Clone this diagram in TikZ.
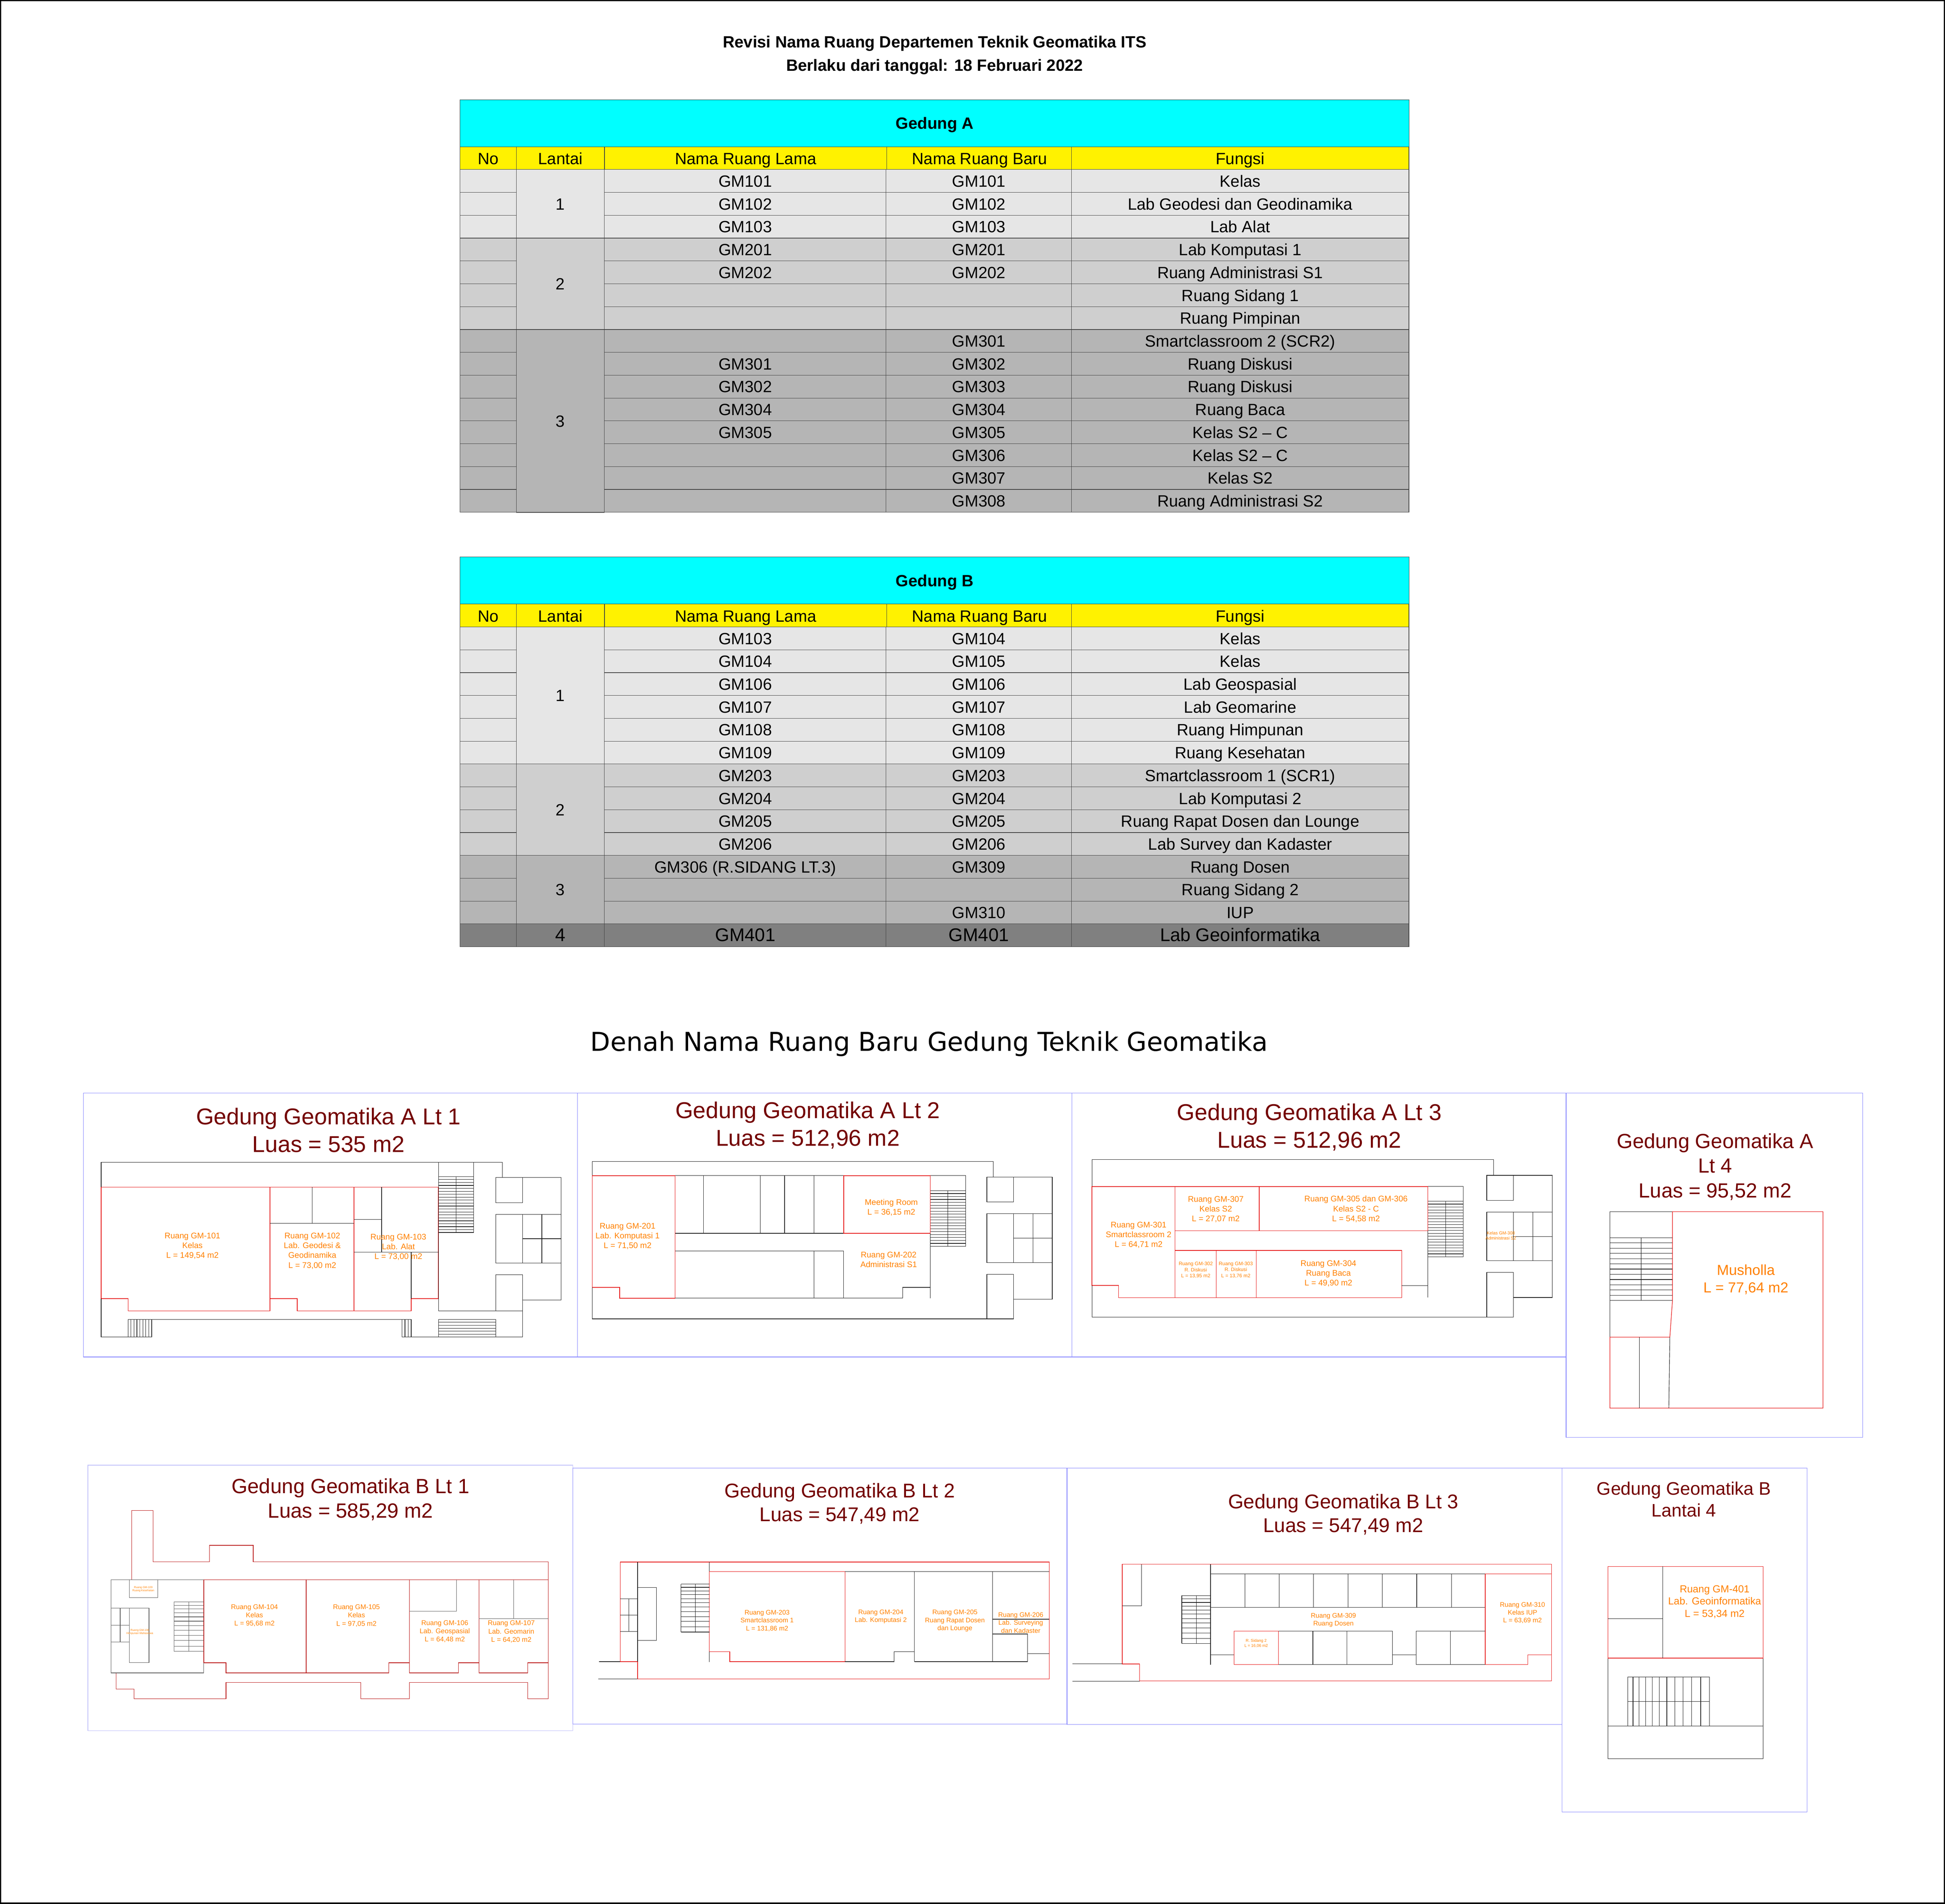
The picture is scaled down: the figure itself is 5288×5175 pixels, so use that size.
\documentclass[tikz,border=0pt]{standalone}
\usepackage{fontspec}
\setmainfont{Liberation Sans}
\newfontfamily\denahfont{DejaVu Sans}
\definecolor{tosca}{HTML}{00FFFF}
\definecolor{kuning}{HTML}{FFF200}
\definecolor{lantaia}{HTML}{E6E6E6}
\definecolor{lantaib}{HTML}{CFCFCF}
\definecolor{lantaic}{HTML}{B5B5B5}
\definecolor{lantaid}{HTML}{808080}
\definecolor{merahtua}{HTML}{730000}
\definecolor{jingga}{HTML}{FF8000}
\definecolor{merahgaris}{HTML}{E61010}
\definecolor{birugaris}{HTML}{7F7FFF}
\definecolor{birumuda}{HTML}{C0C0FA}

\tikzset{
    sel/.style={draw=black!75, line width=0.35pt, anchor=north west, inner sep=0pt, outer sep=0pt,
        minimum height=0.621cm, text height=0.32cm, text depth=0cm,
        font=\fontsize{12.6}{15}\selectfont},
    kolno/.style={sel, minimum width=1.53cm},
    kollantai/.style={sel, minimum width=2.39cm},
    kollama/.style={sel, minimum width=7.66cm},
    kolbaru/.style={sel, minimum width=5.04cm},
    kolfungsi/.style={sel, minimum width=9.17cm},
    judulutama/.style={inner sep=0pt, font=\fontsize{12.6}{15}\selectfont\bfseries},
    bingkai/.style={draw=birugaris, line width=0.4pt},
    denah/.style={draw=black!90, line width=0.35pt},
    merah/.style={draw=merahgaris, line width=0.4pt},
    judulruang/.style={text=merahtua, align=center, inner sep=0pt,
        font=\fontsize{#1}{\fpeval{#1*1.2}}\selectfont},
    teksruang/.style={text=jingga, align=center, inner sep=0pt,
        font=\fontsize{#1}{\fpeval{#1*1.2}}\selectfont},
    teksruang/.default=6.3
}

% satu baris tabel
\newcommand{\barisruang}[7][]{
    \pgfmathsetmacro{\ybaris}{461+62.1*(#3-1)}
    \node[kolno, fill=#4] (#2-no-#3) at (1251,\ybaris) {};
    \node[kollama, fill=#4, #1] (#2-lama-#3) at (1643,\ybaris) {#5};
    \node[kolbaru, fill=#4, #1] (#2-baru-#3) at (2409,\ybaris) {#6};
    \node[kolfungsi, fill=#4, #1] (#2-fungsi-#3) at (2913,\ybaris) {#7};
}

% kepala tabel
\newcommand{\kepalatabel}[2]{
    \node[sel, fill=tosca, minimum width=25.79cm, minimum height=1.28cm, judulutama] (#1-gedung) at (1251,271) {#2};
    \node[kolno, fill=kuning, text height=0.34cm] (#1-kno) at (1251,399) {No};
    \node[kollantai, fill=kuning, text height=0.34cm] (#1-klantai) at (1404,399) {Lantai};
    \node[kollama, fill=kuning, text height=0.34cm] (#1-klama) at (1644,399) {Nama Ruang Lama};
    \node[kolbaru, fill=kuning, text height=0.34cm] (#1-kbaru) at (2411,399) {Nama Ruang Baru};
    \node[kolfungsi, fill=kuning, text height=0.34cm] (#1-kfungsi) at (2913,399) {Fungsi};
}

\begin{document}
\begin{tikzpicture}[x=0.01cm, y=-0.01cm]
    \useasboundingbox (0,0) rectangle (5288,5175);
    \draw[black, line width=1.9pt] (0,0) rectangle (5288,5175);

    \node[judulutama] (judul-1) at (2541,118) {Revisi Nama Ruang Departemen Teknik Geomatika ITS};
    \node[judulutama] (judul-2) at (2541,182) {Berlaku dari tanggal: 18 Februari 2022};

    % Tabel gedung A
    \kepalatabel{a}{Gedung A}
    \foreach \i/\warna/\lama/\baru/\fungsi in {
        1/lantaia/GM101/GM101/Kelas,
        2/lantaia/GM102/GM102/Lab Geodesi dan Geodinamika,
        3/lantaia/GM103/GM103/Lab Alat,
        4/lantaib/GM201/GM201/Lab Komputasi 1,
        5/lantaib/GM202/GM202/Ruang Administrasi S1,
        6/lantaib/{}/{}/Ruang Sidang 1,
        7/lantaib/{}/{}/Ruang Pimpinan,
        8/lantaic/{}/GM301/Smartclassroom 2 (SCR2),
        9/lantaic/GM301/GM302/Ruang Diskusi,
        10/lantaic/GM302/GM303/Ruang Diskusi,
        11/lantaic/GM304/GM304/Ruang Baca,
        12/lantaic/GM305/GM305/Kelas S2 – C,
        13/lantaic/{}/GM306/Kelas S2 – C,
        14/lantaic/{}/GM307/Kelas S2,
        15/lantaic/{}/GM308/Ruang Administrasi S2} {
        \barisruang{a}{\i}{\warna}{\lama}{\baru}{\fungsi}
    }
    \node[kollantai, fill=lantaia, minimum height=1.863cm] (a-lantai-1) at (1404,461) {1};
    \node[kollantai, fill=lantaib, minimum height=2.484cm] (a-lantai-2) at (1404,647.3) {2};
    \node[kollantai, fill=lantaic, minimum height=4.968cm] (a-lantai-3) at (1404,895.7) {3};

    % Tabel gedung B
    \begin{scope}[shift={(0,1243.3)}]
        \kepalatabel{b}{Gedung B}
        \foreach \i/\warna/\lama/\baru/\fungsi in {
            1/lantaia/GM103/GM104/Kelas,
            2/lantaia/GM104/GM105/Kelas,
            3/lantaia/GM106/GM106/Lab Geospasial,
            4/lantaia/GM107/GM107/Lab Geomarine,
            5/lantaia/GM108/GM108/Ruang Himpunan,
            6/lantaia/GM109/GM109/Ruang Kesehatan,
            7/lantaib/GM203/GM203/Smartclassroom 1 (SCR1),
            8/lantaib/GM204/GM204/Lab Komputasi 2,
            9/lantaib/GM205/GM205/Ruang Rapat Dosen dan Lounge,
            10/lantaib/GM206/GM206/Lab Survey dan Kadaster,
            11/lantaic/GM306 (R.SIDANG LT.3)/GM309/Ruang Dosen,
            12/lantaic/{}/{}/Ruang Sidang 2,
            13/lantaic/{}/GM310/IUP} {
            \barisruang{b}{\i}{\warna}{\lama}{\baru}{\fungsi}
        }
        \barisruang[font=\fontsize{14.2}{17}\selectfont, text height=0.33cm]{b}{14}{lantaid}{GM401}{GM401}{Lab Geoinformatika}
        \node[kollantai, fill=lantaia, minimum height=3.726cm] (b-lantai-1) at (1404,461) {1};
        \node[kollantai, fill=lantaib, minimum height=2.484cm] (b-lantai-2) at (1404,833.6) {2};
        \node[kollantai, fill=lantaic, minimum height=1.863cm] (b-lantai-3) at (1404,1082) {3};
        \node[kollantai, fill=lantaid, minimum height=0.621cm, font=\fontsize{14.2}{17}\selectfont, text height=0.33cm] (b-lantai-4) at (1404,1268.3) {4};
    \end{scope}

    \node[font=\denahfont\fontsize{20.05}{24}\selectfont, inner sep=0pt] (denah-judul) at (2526,2838) {Denah Nama Ruang Baru Gedung Teknik Geomatika};

    % Bingkai
    \draw[bingkai] (227,2971) rectangle (1570,3689);
    \draw[bingkai] (1570,2971) rectangle (2914,3689);
    \draw[bingkai] (2914,2971) rectangle (4258,3689);
    \draw[bingkai] (4258,2971) rectangle (5064,3907);
    \draw[bingkai, draw=birumuda] (239,3983) rectangle (1557,4705);
    \draw[bingkai] (1557,3991) rectangle (2901,4687);
    \draw[bingkai] (2901,3991) rectangle (4247,4688);
    \draw[bingkai] (4247,3991) rectangle (4913,4926);

    % Gedung A lantai 1
    \node[judulruang=17.7] (judul-a1) at (893,3072) {Gedung Geomatika A Lt 1\\Luas = 535 m2};
    \begin{scope}[shift={(200,2950)}, xscale=0.8929, yscale=0.5102]
        \draw[denah] (84,543) -- (84,410) -- (1306,410) -- (1306,492);
        \draw[merah] (84,543) -- (1111,543);
        \draw[merah] (84,543) -- (84,1137) -- (166,1137) -- (166,1203) -- (598,1203) -- (598,543);
        \draw[merah] (598,1137) -- (681,1137) -- (681,1203) -- (1028,1203) -- (1028,1137) -- (1111,1137) -- (1111,543);
        \draw[merah] (854,543) -- (854,1203);
        \draw[denah] (598,737) -- (854,737) (727,543) -- (727,737);
        \draw[denah] (938,543) -- (938,889) (854,716) -- (938,716) (854,889) -- (1111,889) (1028,889) -- (1028,1137);
        \draw[denah] (1111,410) rectangle (1218,785) (1165,487) -- (1165,785);
        \foreach \y in {487,502.7,...,786} \draw[denah] (1111,\y) -- (1218,\y);
        \draw[denah] (1286,492) rectangle (1367,626) (1367,492) -- (1485,492) -- (1485,689);
        \draw[denah] (1286,689) rectangle (1485,948) (1367,689) -- (1367,948) (1426,689) -- (1426,948) (1367,818) -- (1485,818);
        \draw[denah] (1485,948) -- (1485,1144) -- (1367,1144);
        \draw[denah] (1286,1203) -- (1286,1010) -- (1367,1010) -- (1367,1342);
        \draw[denah] (1111,785) -- (1111,1203) -- (1367,1203);
        \draw[denah] (84,1137) -- (84,1342) -- (238,1342) (166,1248) -- (1028,1248) (1000,1342) -- (1367,1342) (1000,1248) -- (1000,1342);
        \foreach \x in {166,175,184,193,202,211,220,229,238} \draw[denah] (\x,1248) -- (\x,1342);
        \foreach \x in {1009,1019,1028} \draw[denah] (\x,1248) -- (\x,1342);
        \draw[denah] (1111,1248) rectangle (1286,1342);
        \foreach \y in {1263,1279,1295,1311,1327} \draw[denah] (1111,\y) -- (1286,\y);
        \node[teksruang] (gm101) at (362,857) {Ruang GM-101\\Kelas\\L = 149,54 m2};
        \node[teksruang] (gm102) at (727,883) {Ruang GM-102\\Lab. Geodesi \&\\Geodinamika\\L = 73,00 m2};
        \node[teksruang] (gm103) at (989,862) {Ruang GM-103\\Lab. Alat\\L = 73,00 m2};
    \end{scope}

    % Gedung A lantai 2
    \node[judulruang=17.7] (judul-a2) at (2196,3059) {Gedung Geomatika A Lt 2\\Luas = 512,96 m2};
    \begin{scope}[shift={(1550,2950)}, xscale=0.8929, yscale=0.5102]
        \draw[denah] (67,482) -- (67,406) -- (1289,406) -- (1289,489);
        \draw[merah] (320,482) -- (67,482) -- (67,1077) -- (151,1077) -- (151,1135) -- (320,1135) -- (320,482);
        \draw[denah] (320,482) -- (833,482) (320,789) -- (833,789);
        \foreach \x in {406,579,653,743} \draw[denah] (\x,482) -- (\x,789);
        \draw[merah] (833,482) rectangle (1097,789);
        \draw[denah] (1097,482) -- (1204,482) -- (1204,858) -- (1097,858) (1150,562) -- (1150,858) (1097,789) -- (1097,1135);
        \foreach \y in {562,577.6,...,859} \draw[denah] (1097,\y) -- (1204,\y);
        \draw[denah] (320,884) -- (833,884) -- (833,1135) (743,884) -- (743,1135);
        \draw[denah] (320,1135) -- (1013,1135) -- (1013,1077) -- (1097,1077);
        \draw[denah] (67,1077) -- (67,1245) -- (1350,1245) -- (1350,1007) -- (1269,1007) -- (1269,1245);
        \draw[denah] (1269,489) rectangle (1350,622) (1350,489) -- (1468,489) -- (1468,685);
        \draw[denah] (1269,685) rectangle (1468,945) (1350,685) -- (1350,945) (1409,685) -- (1409,945) (1350,815) -- (1468,815);
        \draw[denah] (1468,945) -- (1468,1141) -- (1350,1141);
        \node[teksruang] (gm201) at (175,804) {Ruang GM-201\\Lab. Komputasi 1\\L = 71,50 m2};
        \node[teksruang] (meeting) at (978,652) {Meeting Room\\L = 36,15 m2};
        \node[teksruang] (gm202) at (970,929) {Ruang GM-202\\Administrasi S1};
    \end{scope}

    % Gedung A lantai 3
    \node[judulruang=17.7] (judul-a3) at (3560,3064) {Gedung Geomatika A Lt 3\\Luas = 512,96 m2};
    \begin{scope}[shift={(2900,2950)}, xscale=0.8929, yscale=0.5102]
        \draw[denah] (77,540) -- (77,397) -- (1300,397) -- (1300,480);
        \draw[merah] (1100,776) -- (1100,540) -- (77,540) -- (77,1067) -- (158,1067) -- (158,1132) -- (1020,1132) -- (1020,880) -- (330,880);
        \draw[merah] (330,540) -- (330,1132) (586,540) -- (586,776) (330,776) -- (1100,776) (455,880) -- (455,1132) (577,880) -- (577,1132);
        \draw[denah] (1100,540) -- (1207,540) -- (1207,915) -- (1100,915) (1154,618) -- (1154,915) (1100,776) -- (1100,1132) (1020,1067) -- (1100,1067);
        \foreach \y in {618,633.6,...,916} \draw[denah] (1100,\y) -- (1207,\y);
        \draw[denah] (77,1067) -- (77,1235) -- (1360,1235) -- (1360,998) -- (1279,998) -- (1279,1235);
        \draw[denah] (1279,480) rectangle (1360,613) (1360,480) -- (1479,480) -- (1479,676);
        \draw[denah] (1279,676) rectangle (1479,936) (1360,676) -- (1360,936) (1419,676) -- (1419,936) (1360,806) -- (1479,806);
        \draw[denah] (1479,936) -- (1479,1131) -- (1360,1131);
        \node[teksruang] (gm301) at (219,798) {Ruang GM-301\\Smartclassroom 2\\L = 64,71 m2};
        \node[teksruang] (gm307) at (454,662) {Ruang GM-307\\Kelas S2\\L = 27,07 m2};
        \node[teksruang] (gm305) at (881,660) {Ruang GM-305 dan GM-306\\Kelas S2 - C\\L = 54,58 m2};
        \node[teksruang=3.85] (gm302) at (393,985) {Ruang GM-302\\R. Diskusi\\L = 13,95 m2};
        \node[teksruang=3.85] (gm303) at (515,984) {Ruang GM-303\\R. Diskusi\\L = 13,76 m2};
        \node[teksruang] (gm304) at (797,1003) {Ruang GM-304\\Ruang Baca\\L = 49,90 m2};
        \node[teksruang=3.4] (gm308) at (1322,801) {Kelas GM-308\\Administrasi S2};
    \end{scope}

    % Gedung A lantai 4
    \node[judulruang=15.8] (judul-a4) at (4663,3172) {Gedung Geomatika A\\Lt 4\\Luas = 95,52 m2};
    \begin{scope}[shift={(4230,2950)}, xscale=0.5484, yscale=0.6378]
        \draw[denah] (578,539) -- (268,539) -- (268,1074);
        \draw[merah] (578,539) -- (1324,539) -- (1324,1376) -- (268,1376) -- (268,1074) -- (565,1074) -- (578,918) -- cycle;
        \draw[denah] (414,1074) -- (414,1376) (565,1074) -- (560,1376) (423,650) -- (423,918);
        \foreach \y in {650,672.3,...,919} \draw[denah] (268,\y) -- (578,\y);
        \node[teksruang=11.2] (musholla) at (942,828) {Musholla\\L = 77,64 m2};
    \end{scope}

    % Gedung B lantai 1
    \node[judulruang=15.9] (judul-b1) at (953,4076) {Gedung Geomatika B Lt 1\\Luas = 585,29 m2};
    \begin{scope}[shift={(220,3970)}, xscale=0.8610, yscale=0.4785, merah/.append style={draw=merahgaris!80!black}, denah/.append style={draw=black!65}]
        \draw[merah] (160,678) -- (160,285) -- (228,285) -- (228,576) -- (406,576) -- (406,482) -- (544,482) -- (544,576) -- (1476,576) -- (1476,1354) -- (1411,1354) -- (1411,1261) -- (1037,1261) -- (1037,1354) -- (884,1354) -- (884,1261) -- (458,1261) -- (458,1354) -- (168,1354) -- (168,1299) -- (111,1299) -- (111,1207);
        \draw[merah] (388,678) -- (1476,678);
        \draw[merah] (388,678) -- (388,1150) -- (458,1150) -- (458,1207) -- (972,1207) -- (972,1150) -- (1037,1150) -- (1037,1207) -- (1192,1207) -- (1192,1150) -- (1257,1150) -- (1257,1207) -- (1411,1207) -- (1411,1150) -- (1476,1150);
        \draw[merah] (711,678) -- (711,1207) (1037,678) -- (1037,1150) (1257,678) -- (1257,1150);
        \draw[denah] (1037,856) -- (1186,856) -- (1186,678) (1257,898) -- (1476,898) (1367,678) -- (1367,898);
        \draw[denah] (388,678) -- (95,678) -- (95,1207) -- (388,1207) -- (388,1150);
        \draw[denah] (153,678) rectangle (243,779);
        \draw[denah] (95,839) -- (215,839) -- (215,1148) -- (153,1148) -- (153,839);
        \draw[denah] (95,936) -- (153,936) (95,1031) -- (153,1031) (124,839) -- (124,1031);
        \draw[denah] (294,804) -- (294,1084) (341,804) -- (341,1084);
        \foreach \y in {804,823,843,865,889,913,939,965,994,1023,1055,1084} \draw[denah] (294,\y) -- (388,\y);
        \node[teksruang=5.3] (gm104) at (548,881) {Ruang GM-104\\Kelas\\L = 95,68 m2};
        \node[teksruang=5.3] (gm105) at (870,882) {Ruang GM-105\\Kelas\\L = 97,05 m2};
        \node[teksruang=5.3] (gm106) at (1149,971) {Ruang GM-106\\Lab. Geospasial\\L = 64,48 m2};
        \node[teksruang=5.3] (gm107) at (1359,973) {Ruang GM-107\\Lab. Geomarin\\L = 64,20 m2};
        \node[teksruang=2.1] (gm109) at (197,731) {Ruang GM-109\\Ruang Kesehatan};
        \node[teksruang=2.1] (gm108) at (186,974) {Ruang GM-108\\Himpunan Mahasiswa};
    \end{scope}

    % Gedung B lantai 2
    \node[judulruang=15.4] (judul-b2) at (2283,4087) {Gedung Geomatika B Lt 2\\Luas = 547,49 m2};
    \begin{scope}[shift={(1550,3970)}, xscale=0.8610, yscale=0.4785]
        \draw[merah] (213,1143) -- (158,1143) -- (158,577) -- (1513,577) -- (1513,1241) -- (213,1241) -- (213,1143);
        \draw[denah] (213,577) -- (213,1143) (440,577) -- (440,631) (91,1143) -- (158,1143) (89,1241) -- (213,1241);
        \draw[merah] (868,631) -- (440,631) -- (440,1086) -- (504,1086) -- (504,1143) -- (868,1143) -- cycle;
        \draw[denah] (440,1086) -- (440,1145) (868,631) -- (1513,631) (1087,631) -- (1087,1143) (1334,631) -- (1334,1143);
        \draw[denah] (868,1143) -- (1023,1143) -- (1023,1086) -- (1087,1086);
        \draw[denah] (1087,1143) -- (1444,1143) -- (1444,986) -- (1334,986) (1334,902) -- (1513,902) (1444,1098) -- (1513,1098);
        \draw[denah] (158,786) -- (213,786) (158,879) -- (213,879) (158,972) -- (213,972) (185,786) -- (185,972);
        \draw[denah] (213,722) -- (273,722) -- (273,1022) -- (213,1022);
        \draw[denah] (350,703) -- (350,975) (395,703) -- (395,975);
        \foreach \y in {703,721,741,762,786,808,833,859,887,915,945,975} \draw[denah] (350,\y) -- (440,\y);
        \node[teksruang=5.1] (gm203) at (622,911) {Ruang GM-203\\Smartclassroom 1\\L = 131,86 m2};
        \node[teksruang=5.1] (gm204) at (981,888) {Ruang GM-204\\Lab. Komputasi 2};
        \node[teksruang=5.1] (gm205) at (1215,911) {Ruang GM-205\\Ruang Rapat Dosen\\dan Lounge};
        \node[teksruang=5.1] (gm206) at (1423,922) {Ruang GM-206\\Lab. Surveying\\dan Kadaster};
    \end{scope}

    % Gedung B lantai 3
    \node[judulruang=15.4] (judul-b3) at (3652,4117) {Gedung Geomatika B Lt 3\\Luas = 547,49 m2};
    \begin{scope}[shift={(2890,3970)}, xscale=0.8610, yscale=0.4785]
        \draw[merah] (187,1156) -- (187,590) -- (1543,590) -- (1543,1253) -- (242,1253) -- (242,1156) -- cycle;
        \draw[denah] (466,590) -- (466,1160) (466,645) -- (1333,645) (466,835) -- (1333,835);
        \foreach \x in {575,683,791,900,1008,1117,1227} \draw[denah] (\x,645) -- (\x,835);
        \draw[merah] (1333,645) -- (1543,645) (1333,645) -- (1333,1159) -- (1468,1159) -- (1468,1105) -- (1543,1105);
        \draw[denah] (466,1105) -- (540,1105) (680,970) -- (1040,970) -- (1040,1159) -- (680,1159) (789,970) -- (789,1159) (897,970) -- (897,1159);
        \draw[merah] (540,970) rectangle (680,1159);
        \draw[denah] (1040,1105) -- (1115,1105) (1333,970) -- (1115,970) -- (1115,1159) -- (1333,1159) (1223,970) -- (1223,1159);
        \draw[denah] (248,590) -- (248,825) -- (187,825) (30,1156) -- (187,1156) (30,1254) -- (242,1254);
        \draw[denah] (375,768) -- (375,1040) (421,768) -- (421,1040);
        \foreach \y in {768,787,807,828,850,873,898,924,951,981,1011,1040} \draw[denah] (375,\y) -- (466,\y);
        \node[teksruang=5.1] (gm309) at (854,908) {Ruang GM-309\\Ruang Dosen};
        \node[teksruang=5.1] (gm310) at (1451,866) {Ruang GM-310\\Kelas IUP\\L = 63,69 m2};
        \node[teksruang=3.1] (sidang2) at (610,1039) {R. Sidang 2\\L = 16,06 m2};
    \end{scope}

    % Gedung B lantai 4
    \node[judulruang=14] (judul-b4) at (4578,4076) {Gedung Geomatika B\\Lantai 4};
    \begin{scope}[shift={(4230,3970)}, xscale=0.4464, yscale=0.6122]
        \draw[denah] (317,878) -- (317,1324) -- (1262,1324) -- (1262,878) (317,1180) -- (1262,1180);
        \draw[merah] (317,471) rectangle (1262,878);
        \draw[denah] (651,471) -- (651,878) (317,703) -- (651,703);
        \draw[denah] (438,961) rectangle (936,1180) (438,1071) -- (936,1071);
        \foreach \x in {470,507,546,588,630,676,724,775,826,882} \draw[denah] (\x,961) -- (\x,1180);
        \node[teksruang=7.9] (gm401) at (967,628) {Ruang GM-401\\Lab. Geoinformatika\\L = 53,34 m2};
    \end{scope}
\end{tikzpicture}
\end{document}
